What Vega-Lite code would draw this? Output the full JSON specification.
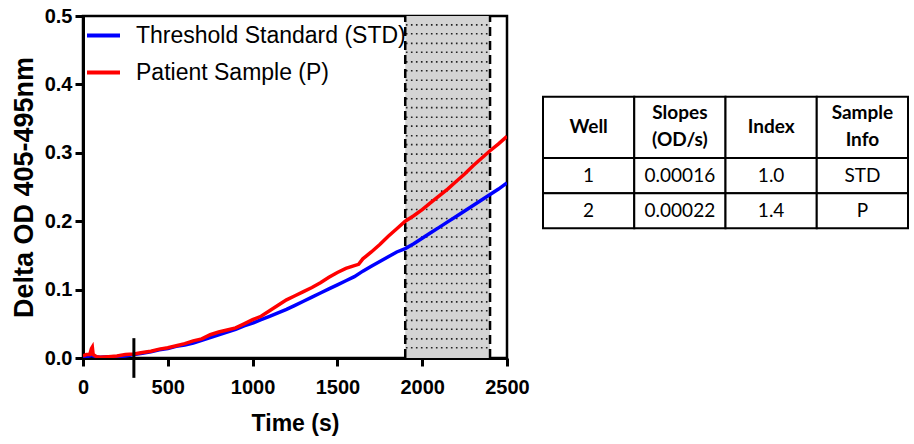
{
  "$schema": "https://vega.github.io/schema/vega-lite/v6.json",
  "background": "white",
  "padding": {"left": 8, "top": 4, "right": 0, "bottom": 0},
  "bounds": "flush",
  "spacing": 36,
  "config": {
    "view": {"stroke": null},
    "axis": {
      "grid": false,
      "domainColor": "black",
      "domainWidth": 3,
      "tickColor": "black",
      "tickWidth": 3,
      "tickSize": 8,
      "labelFont": "Liberation Sans",
      "labelFontWeight": "bold",
      "labelFontSize": 20,
      "labelColor": "black",
      "labelFlush": false,
      "labelOverlap": false,
      "titleColor": "black",
      "titleFontWeight": "bold"
    },
    "axisX": {"labelPadding": 11, "titlePadding": 15, "titleFont": "Liberation Sans", "titleFontSize": 23},
    "axisY": {"labelPadding": 3, "titlePadding": 6, "titleFont": "Liberation Sans", "titleFontSize": 27}
  },
  "datasets": {
    "region": [{"start": 1900, "end": 2400}],
    "edges": [{"t": 1900}, {"t": 2400}],
    "dots": [
      {"y": 0.487}, {"y": 0.474}, {"y": 0.460}, {"y": 0.447}, {"y": 0.433}, {"y": 0.420},
      {"y": 0.406}, {"y": 0.393}, {"y": 0.379}, {"y": 0.366}, {"y": 0.352}, {"y": 0.339},
      {"y": 0.325}, {"y": 0.312}, {"y": 0.298}, {"y": 0.285}, {"y": 0.271}, {"y": 0.258},
      {"y": 0.244}, {"y": 0.231}, {"y": 0.217}, {"y": 0.204}, {"y": 0.190}, {"y": 0.177},
      {"y": 0.163}, {"y": 0.150}, {"y": 0.136}, {"y": 0.123}, {"y": 0.109}, {"y": 0.096},
      {"y": 0.082}, {"y": 0.069}, {"y": 0.055}, {"y": 0.042}, {"y": 0.028}, {"y": 0.015}
    ],
    "std": [
      {"t": 0, "od": 0.000}, {"t": 25, "od": 0.002}, {"t": 50, "od": 0.004}, {"t": 75, "od": 0.002},
      {"t": 100, "od": 0.001}, {"t": 150, "od": 0.002}, {"t": 200, "od": 0.002}, {"t": 250, "od": 0.003},
      {"t": 300, "od": 0.005}, {"t": 350, "od": 0.007}, {"t": 400, "od": 0.009}, {"t": 450, "od": 0.012},
      {"t": 500, "od": 0.014}, {"t": 550, "od": 0.017}, {"t": 600, "od": 0.019}, {"t": 650, "od": 0.022},
      {"t": 700, "od": 0.026}, {"t": 750, "od": 0.030}, {"t": 800, "od": 0.034}, {"t": 850, "od": 0.038},
      {"t": 900, "od": 0.042}, {"t": 950, "od": 0.047}, {"t": 1000, "od": 0.051}, {"t": 1050, "od": 0.056},
      {"t": 1100, "od": 0.061}, {"t": 1150, "od": 0.066}, {"t": 1200, "od": 0.071}, {"t": 1250, "od": 0.077},
      {"t": 1300, "od": 0.083}, {"t": 1350, "od": 0.089}, {"t": 1400, "od": 0.095}, {"t": 1450, "od": 0.101},
      {"t": 1500, "od": 0.107}, {"t": 1550, "od": 0.113}, {"t": 1600, "od": 0.119}, {"t": 1650, "od": 0.127},
      {"t": 1700, "od": 0.134}, {"t": 1750, "od": 0.141}, {"t": 1800, "od": 0.148}, {"t": 1850, "od": 0.155},
      {"t": 1900, "od": 0.160}, {"t": 1950, "od": 0.167}, {"t": 2000, "od": 0.175}, {"t": 2050, "od": 0.183},
      {"t": 2100, "od": 0.191}, {"t": 2150, "od": 0.199}, {"t": 2200, "od": 0.207}, {"t": 2250, "od": 0.215},
      {"t": 2300, "od": 0.223}, {"t": 2350, "od": 0.231}, {"t": 2400, "od": 0.239}, {"t": 2450, "od": 0.247},
      {"t": 2500, "od": 0.256}
    ],
    "pat": [
      {"t": 0, "od": 0.003}, {"t": 20, "od": 0.005}, {"t": 40, "od": 0.005}, {"t": 50, "od": 0.014},
      {"t": 55, "od": 0.016}, {"t": 60, "od": 0.005}, {"t": 80, "od": 0.002}, {"t": 100, "od": 0.001},
      {"t": 150, "od": 0.002}, {"t": 200, "od": 0.003}, {"t": 250, "od": 0.005}, {"t": 300, "od": 0.006},
      {"t": 350, "od": 0.008}, {"t": 400, "od": 0.010}, {"t": 450, "od": 0.013}, {"t": 500, "od": 0.015},
      {"t": 550, "od": 0.018}, {"t": 600, "od": 0.021}, {"t": 650, "od": 0.025}, {"t": 700, "od": 0.028},
      {"t": 750, "od": 0.034}, {"t": 800, "od": 0.038}, {"t": 850, "od": 0.041}, {"t": 900, "od": 0.044},
      {"t": 950, "od": 0.050}, {"t": 1000, "od": 0.056}, {"t": 1050, "od": 0.061}, {"t": 1100, "od": 0.069},
      {"t": 1150, "od": 0.077}, {"t": 1200, "od": 0.085}, {"t": 1250, "od": 0.091}, {"t": 1300, "od": 0.097},
      {"t": 1350, "od": 0.103}, {"t": 1400, "od": 0.110}, {"t": 1450, "od": 0.118}, {"t": 1500, "od": 0.125},
      {"t": 1550, "od": 0.131}, {"t": 1600, "od": 0.135}, {"t": 1625, "od": 0.137}, {"t": 1650, "od": 0.145},
      {"t": 1700, "od": 0.155}, {"t": 1750, "od": 0.166}, {"t": 1800, "od": 0.178}, {"t": 1850, "od": 0.189},
      {"t": 1900, "od": 0.200}, {"t": 1950, "od": 0.208}, {"t": 2000, "od": 0.217}, {"t": 2050, "od": 0.227},
      {"t": 2100, "od": 0.237}, {"t": 2150, "od": 0.247}, {"t": 2200, "od": 0.258}, {"t": 2250, "od": 0.269},
      {"t": 2300, "od": 0.281}, {"t": 2350, "od": 0.292}, {"t": 2400, "od": 0.303}, {"t": 2450, "od": 0.313},
      {"t": 2500, "od": 0.324}
    ],
    "thead": [
      {"col": "Well", "r0": 0, "r1": 1.75, "text": "Well", "lines": 1},
      {"col": "Slopes", "r0": 0, "r1": 1.75, "text": "Slopes\n(OD/s)", "lines": 2},
      {"col": "Index", "r0": 0, "r1": 1.75, "text": "Index", "lines": 1},
      {"col": "Sample", "r0": 0, "r1": 1.75, "text": "Sample\nInfo", "lines": 2}
    ],
    "tbody": [
      {"col": "Well", "r0": 1.75, "r1": 2.75, "text": "1"},
      {"col": "Slopes", "r0": 1.75, "r1": 2.75, "text": "0.00016"},
      {"col": "Index", "r0": 1.75, "r1": 2.75, "text": "1.0"},
      {"col": "Sample", "r0": 1.75, "r1": 2.75, "text": "STD"},
      {"col": "Well", "r0": 2.75, "r1": 3.75, "text": "2"},
      {"col": "Slopes", "r0": 2.75, "r1": 3.75, "text": "0.00022"},
      {"col": "Index", "r0": 2.75, "r1": 3.75, "text": "1.4"},
      {"col": "Sample", "r0": 2.75, "r1": 3.75, "text": "P"}
    ]
  },
  "hconcat": [
    {
      "width": 424,
      "height": 342,
      "view": {"stroke": "black", "strokeWidth": 2.5},
      "layer": [
        {
          "data": {"name": "region"},
          "mark": {"type": "rect", "fill": "#d4d4d4"},
          "encoding": {
            "x": {"field": "start", "type": "quantitative", "title": "Time (s)",
                  "scale": {"domain": [0, 2500], "nice": false},
                  "axis": {"values": [0, 500, 1000, 1500, 2000, 2500], "format": "d"}},
            "x2": {"field": "end"},
            "y": {"datum": 0, "type": "quantitative", "title": "Delta OD 405-495nm",
                  "scale": {"domain": [0, 0.5], "nice": false},
                  "axis": {"values": [0, 0.1, 0.2, 0.3, 0.4, 0.5], "format": ".1f"}},
            "y2": {"datum": 0.5}
          }
        },
        {
          "data": {"name": "dots"},
          "mark": {"type": "rule", "color": "#222222", "strokeWidth": 1.6, "strokeDash": [1.6, 3.4]},
          "encoding": {
            "y": {"field": "y", "type": "quantitative", "title": "Delta OD 405-495nm"},
            "x": {"datum": 1904, "type": "quantitative", "title": "Time (s)"},
            "x2": {"datum": 2396}
          }
        },
        {
          "data": {"name": "edges"},
          "mark": {"type": "rule", "color": "black", "strokeWidth": 2.5, "strokeDash": [9, 5]},
          "encoding": {
            "x": {"field": "t", "type": "quantitative", "title": "Time (s)"},
            "y": {"datum": 0, "type": "quantitative", "title": "Delta OD 405-495nm"},
            "y2": {"datum": 0.5}
          }
        },
        {
          "data": {"name": "std"},
          "mark": {"type": "line", "strokeWidth": 3.5, "clip": true},
          "encoding": {
            "x": {"field": "t", "type": "quantitative", "title": "Time (s)"},
            "y": {"field": "od", "type": "quantitative", "title": "Delta OD 405-495nm"},
            "color": {"datum": "Threshold Standard (STD)", "type": "nominal",
                      "scale": {"domain": ["Threshold Standard (STD)", "Patient Sample (P)"], "range": ["#0000ff", "#ff0000"]},
                      "legend": {"orient": "none", "legendX": 2, "legendY": 1, "title": null, "padding": 0,
                                 "symbolType": "stroke", "symbolSize": 1089, "symbolStrokeWidth": 4,
                                 "labelFont": "Liberation Sans",
                                 "labelFontSize": 23, "labelColor": "black", "labelOffset": 14,
                                 "labelLimit": 600, "rowPadding": 6}}
          }
        },
        {
          "data": {"name": "pat"},
          "mark": {"type": "line", "strokeWidth": 3.5, "clip": true},
          "encoding": {
            "x": {"field": "t", "type": "quantitative", "title": "Time (s)"},
            "y": {"field": "od", "type": "quantitative", "title": "Delta OD 405-495nm"},
            "color": {"datum": "Patient Sample (P)", "type": "nominal"}
          }
        },
        {
          "data": {"values": [{"t": 300}]},
          "mark": {"type": "rule", "color": "black", "strokeWidth": 3},
          "encoding": {
            "x": {"field": "t", "type": "quantitative", "title": "Time (s)"},
            "y": {"datum": -0.029, "type": "quantitative", "title": "Delta OD 405-495nm"},
            "y2": {"datum": 0.029}
          }
        }
      ]
    },
    {
      "width": 365,
      "height": 342,
      "encoding": {
        "x": {"field": "col", "type": "nominal", "axis": null,
              "scale": {"domain": ["Well", "Slopes", "Index", "Sample"], "paddingInner": 0, "paddingOuter": 0}},
        "y": {"field": "r0", "type": "quantitative", "axis": null,
              "scale": {"domain": [-2.31, 7.46], "reverse": true, "nice": false, "zero": false}}
      },
      "layer": [
        {
          "data": {"name": "thead"},
          "mark": {"type": "rect", "fill": "white", "stroke": "black", "strokeWidth": 2},
          "encoding": {"y2": {"field": "r1"}}
        },
        {
          "data": {"name": "tbody"},
          "mark": {"type": "rect", "fill": "white", "stroke": "black", "strokeWidth": 2},
          "encoding": {"y2": {"field": "r1"}}
        },
        {
          "data": {"name": "thead"},
          "transform": [{"filter": "datum.lines == 1"}],
          "mark": {"type": "text", "font": "Lato", "fontWeight": "bold", "fontSize": 19, "color": "black",
                   "baseline": "middle", "yOffset": 30},
          "encoding": {"text": {"field": "text"}}
        },
        {
          "data": {"name": "thead"},
          "transform": [{"filter": "datum.lines == 2"}],
          "mark": {"type": "text", "font": "Lato", "fontWeight": "bold", "fontSize": 19, "color": "black",
                   "baseline": "middle", "lineBreak": "\n", "lineHeight": 27, "yOffset": 16.5},
          "encoding": {"text": {"field": "text"}}
        },
        {
          "data": {"name": "tbody"},
          "mark": {"type": "text", "font": "Lato", "fontSize": 19, "color": "black",
                   "baseline": "middle", "yOffset": 17.5},
          "encoding": {"text": {"field": "text"}}
        }
      ]
    }
  ]
}
